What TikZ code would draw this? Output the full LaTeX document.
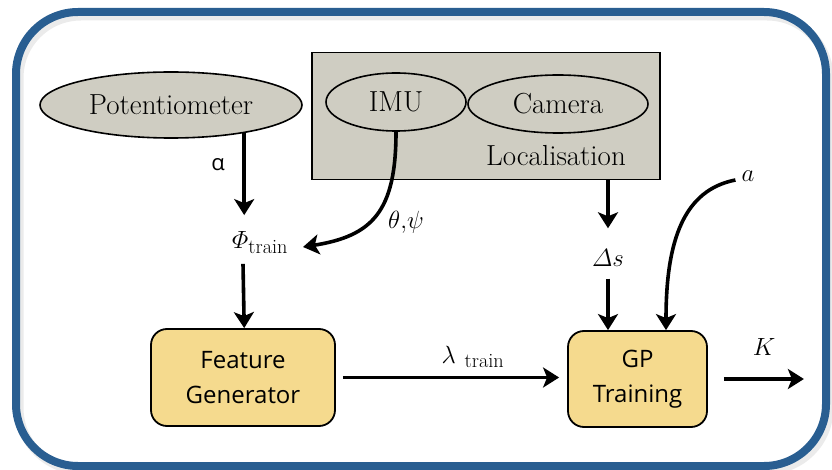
\documentclass[tikz,border=0pt]{standalone}
\usepackage{amsmath}
\usepackage{fontspec}
\newfontfamily\labelsans{Open Sans}
\usetikzlibrary{shapes.geometric,arrows.meta,calc}
\definecolor{frameblue}{HTML}{295E91}
\definecolor{sensorgrey}{HTML}{CFCDC2}
\definecolor{blockyellow}{HTML}{F5DA8E}

\begin{document}
\begin{tikzpicture}[x=1pt,y=-1pt,
  sensor/.style={ellipse,draw,line width=1.6pt,fill=sensorgrey,inner sep=0pt,
    font=\fontsize{29}{34}\selectfont},
  block/.style={rectangle,rounded corners=16pt,draw,line width=1.8pt,fill=blockyellow,
    align=center,inner sep=0pt,font=\labelsans\fontsize{24}{35}\selectfont},
  flow/.style={line width=3.6pt,-{Stealth[length=16pt,width=20pt,inset=4pt]}},
  lab/.style={inner sep=0pt,font=\fontsize{29}{33}\selectfont}
]
\useasboundingbox (0,0) rectangle (832,470);

% outer frame with a soft shadow
\draw[black,opacity=0.08,line width=9pt,rounded corners=62pt] (19,16) rectangle (829,470);
\draw[frameblue,line width=8pt,rounded corners=62pt] (16,12) rectangle (826,466);

% localisation group
\node[draw,line width=1.6pt,fill=sensorgrey,minimum width=348pt,minimum height=127pt,
  inner sep=0pt] (loc) at (486,116) {};
\node[inner sep=0pt,font=\fontsize{29}{34}\selectfont] (loclabel) at (556,156) {Localisation};
\node[sensor,minimum width=140pt,minimum height=58pt] (imu) at (396,102) {IMU};
\node[sensor,minimum width=180pt,minimum height=58pt] (cam) at (558,104) {Camera};

% potentiometer
\node[sensor,minimum width=262pt,minimum height=66pt] (pot) at (171,105) {Potentiometer};

% processing blocks
\node[block,minimum width=184pt,minimum height=97pt] (fg) at (243,377.5) {Feature\\Generator};
\node[block,minimum width=139pt,minimum height=96pt] (gp) at (637.5,379) {GP\\Training};

% signal labels
\node[lab,anchor=base west] (phi) at (232,249) {$\varPhi_{\mathrm{train}}$};
\node[lab,font=\fontsize{27}{31}\selectfont] (ds) at (608,258) {$\varDelta s$};
\node[lab,font=\fontsize{31}{35}\selectfont] (acoef) at (748,176) {$a$};
\node[lab] (lam) at (473,357) {$\lambda_{\ \mathrm{train}}$};
\node[lab,font=\fontsize{27}{31}\selectfont] (kout) at (764,347) {$K$};
\node[lab] (angles) at (406,222) {$\theta{,}\psi$};
\node[inner sep=0pt,font=\labelsans\fontsize{22}{26}\selectfont] (alpha) at (218,165) {α};

% connectors
\coordinate (phiin) at (303,247);
\draw[flow] (pot.-21) -- ++(0,82);
\draw[flow] ($(phi.south west)+(11,10)$) -- (fg.north -| pot.-21);
\draw[flow] (imu.south) .. controls (396,212) and (372,236) .. (phiin);
\draw[flow] (loc.south -| ds) -- ++(0,48);
\draw[flow] ($(ds.south)+(0,12)$) -- (gp.north -| ds);
\draw[flow] ($(acoef.west)+(-6,4)$) .. controls (684,190) and (666,240) .. ($(gp.north)+(28.5,0)$);
\draw[flow,shorten <=7pt,shorten >=8pt] (fg.east) -- (gp.west |- fg.east);
\draw[flow] ($(gp.east)+(16,0)$) -- ++(80,0);
\end{tikzpicture}
\end{document}
